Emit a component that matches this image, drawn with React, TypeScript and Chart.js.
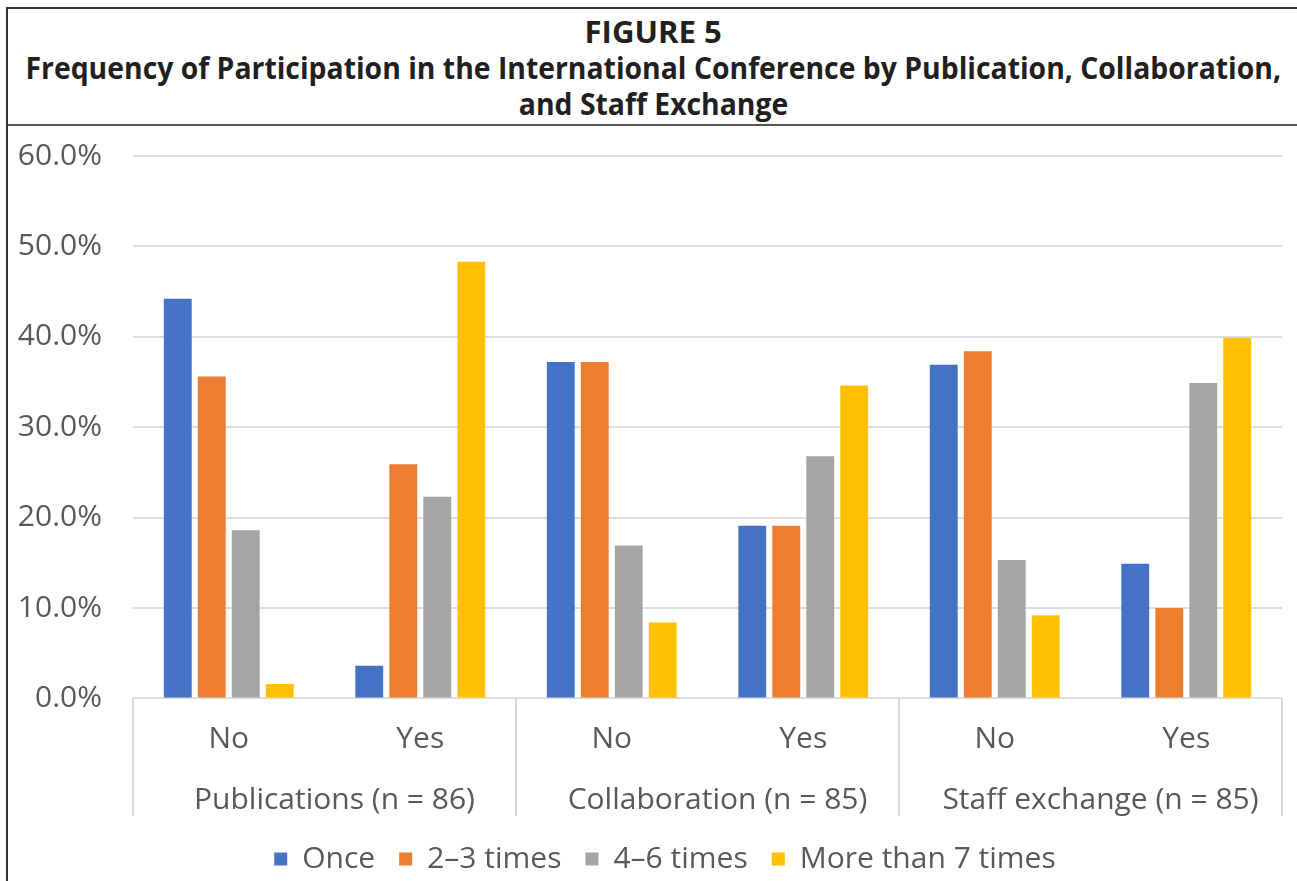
import React, { useEffect, useLayoutEffect, useRef } from 'react';
import { Chart, registerables } from 'chart.js';

Chart.register(...registerables);

// ---- data ----
const subCategories = ['No', 'Yes', 'No', 'Yes', 'No', 'Yes'];
const groupLabels = ['Publications (n = 86)', 'Collaboration (n = 85)', 'Staff exchange (n = 85)'];
const seriesNames = ['Once', '2–3 times', '4–6 times', 'More than 7 times'];
const onceValues = [44.2, 3.6, 37.2, 19.1, 36.9, 14.9];
const twoThreeValues = [35.6, 25.9, 37.2, 19.1, 38.4, 10.0];
const fourSixValues = [18.6, 22.3, 16.9, 26.8, 15.3, 34.9];
const moreThan7Values = [1.6, 48.3, 8.4, 34.6, 9.2, 39.9];
const yTickValues = [0, 10, 20, 30, 40, 50, 60];
const seriesColors = ['#4472C4', '#ED7D31', '#A5A5A5', '#FFC000'];
const titleLines = [
  'FIGURE 5',
  'Frequency of Participation in the International Conference by Publication, Collaboration,',
  'and Staff Exchange',
];

const FONT = '"Open Sans", "Noto Sans", sans-serif';

const groupSeparators = {
  id: 'groupSeparators',
  afterLayout(chart: any) {
    const lg = chart.legend;
    if (lg) {
      lg.left += 20;
      lg.right += 20;
    }
  },
  afterDraw(chart: any) {
    const xs = chart.scales.x;
    const area = chart.chartArea;
    const ctx = chart.ctx;
    const step = xs.getPixelForValue(1) - xs.getPixelForValue(0);
    ctx.save();
    ctx.strokeStyle = '#d9d9d9';
    ctx.lineWidth = 2;
    for (let b = 0; b <= subCategories.length; b += 2) {
      const x = Math.round(xs.getPixelForValue(b) - step / 2);
      ctx.beginPath();
      ctx.moveTo(x, area.bottom);
      ctx.lineTo(x, area.bottom + 118);
      ctx.stroke();
    }
    ctx.restore();
  },
};

export default function App() {
  const canvasRef = useRef<HTMLCanvasElement | null>(null);
  const line1Ref = useRef<HTMLSpanElement | null>(null);
  const line2Ref = useRef<HTMLSpanElement | null>(null);
  const line3Ref = useRef<HTMLSpanElement | null>(null);

  useLayoutEffect(() => {
    document.documentElement.style.overflow = 'hidden';
    const l1 = line1Ref.current;
    const l2 = line2Ref.current;
    const l3 = line3Ref.current;
    if (l1 && l2 && l3) {
      const s2 = 1256 / l2.offsetWidth;
      const s1 = 137 / l1.offsetWidth;
      l1.style.transform = `scaleX(${s1})`;
      l2.style.transform = `scaleX(${s2})`;
      l3.style.transform = `scaleX(${s2})`;
    }
  }, []);

  useEffect(() => {
    if (!canvasRef.current) return;
    const datasets = [onceValues, twoThreeValues, fourSixValues, moreThan7Values].map((d, i) => ({
      label: seriesNames[i],
      data: d,
      backgroundColor: seriesColors[i],
      borderWidth: 0,
      categoryPercentage: 0.71,
      barPercentage: 0.82,
    }));
    const chart = new Chart(canvasRef.current, {
      type: 'bar',
      data: { labels: subCategories, datasets },
      plugins: [groupSeparators],
      options: {
        animation: false,
        responsive: true,
        maintainAspectRatio: false,
        layout: { padding: { top: 30, right: 15, left: 0, bottom: 2 } },
        plugins: {
          title: { display: false },
          tooltip: { enabled: false },
          legend: {
            position: 'bottom',
            labels: {
              font: { family: FONT, size: 30 },
              color: '#595959',
              boxWidth: 13,
              boxHeight: 13,
              padding: 24,
            },
          },
        },
        scales: {
          x: {
            type: 'category',
            labels: subCategories,
            grid: { display: false },
            border: { display: false },
            ticks: { font: { family: FONT, size: 30 }, color: '#595959', padding: 15 },
            afterFit: (s: any) => { s.height = 56.6; },
          },
          x2: {
            type: 'category',
            labels: groupLabels,
            position: 'bottom',
            grid: { display: false },
            border: { display: false },
            ticks: {
              font: { family: FONT, size: 30 },
              color: '#595959',
              padding: 19.4,
              labelOffset: 10,
            },
            afterFit: (s: any) => { s.height = 65; },
          },
          y: {
            min: 0,
            max: 60,
            afterBuildTicks: (s: any) => { s.ticks = yTickValues.map((v) => ({ value: v })); },
            grid: {
              color: '#dedede',
              lineWidth: 2,
              drawTicks: true,
              tickLength: 31,
              tickColor: 'rgba(0,0,0,0)',
            },
            border: { display: false },
            ticks: {
              font: { family: FONT, size: 30 },
              color: '#595959',
              padding: 0,
              callback: (v: any) => Number(v).toFixed(1) + '%',
            },
            afterFit: (s: any) => { s.width = 125; },
          },
        },
      } as any,
    });
    return () => chart.destroy();
  }, []);

  const refs = [line1Ref, line2Ref, line3Ref];

  return (
    <div
      style={{
        position: 'absolute',
        left: 6,
        top: 7,
        width: 1291,
        height: 900,
        borderLeft: '2px solid #333',
        borderTop: '2px solid #333',
        background: '#fff',
      }}
    >
      <div
        style={{
          height: 117,
          borderBottom: '2px solid #555',
          boxSizing: 'border-box',
          paddingTop: 5,
          fontFamily: FONT,
          fontWeight: 700,
          fontSize: 30,
          lineHeight: '36px',
          color: '#231f20',
          overflow: 'hidden',
        }}
      >
        {titleLines.map((t, i) => (
          <div key={i} style={{ display: 'flex', justifyContent: 'center', whiteSpace: 'nowrap' }}>
            <span
              ref={refs[i]}
              style={{ display: 'inline-block', flex: 'none', transformOrigin: 'center' }}
            >
              {t}
            </span>
          </div>
        ))}
      </div>
      <div style={{ position: 'relative', width: 1289, height: 760 }}>
        <canvas ref={canvasRef} />
      </div>
    </div>
  );
}
